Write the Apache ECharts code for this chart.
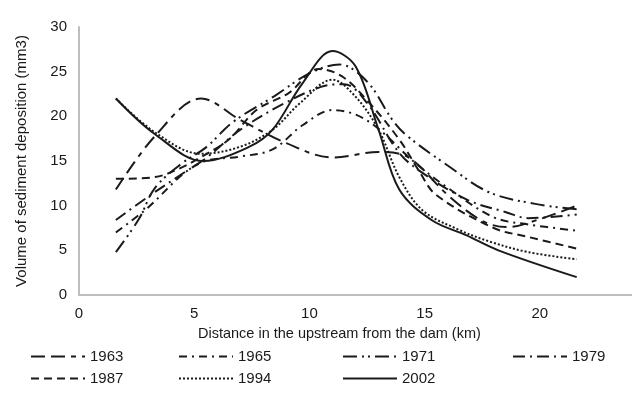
<!DOCTYPE html>
<html>
<head>
<meta charset="utf-8">
<script src="https://cdn.jsdelivr.net/npm/echarts@6/dist/echarts.min.js"></script>
<style>
  html, body { margin: 0; padding: 0; background: #fff; }
  #chart { width: 632px; height: 399px; }
</style>
</head>
<body>
<div id="chart"></div>
<script>
// volume of sediment deposition (mm3) against distance upstream from the dam (km)
var years = ['1963', '1965', '1971', '1979', '1987', '1994', '2002'];
var xTicks = [0, 5, 10, 15, 20];
var yTicks = [0, 5, 10, 15, 20, 25, 30];

var s1963 = [[1.6, 11.8], [3.3, 17.8], [5.3, 22], [7, 19.6], [9, 17], [11, 15.4], [13, 16], [14.3, 15.4], [16, 11.2], [17.5, 8.3], [18.6, 7.6], [20, 8.5], [21.6, 10]];
var s1965 = [[1.6, 7], [3, 9.8], [4.5, 13.5], [5.5, 15], [7, 15.5], [8.4, 16.3], [9.7, 19], [11, 20.7], [12, 20.2], [13, 18.6], [14.5, 15], [16, 12], [18, 8.7], [19.5, 7.9], [21.6, 7.2]];
var s1971 = [[1.6, 4.8], [2.6, 8.5], [3.3, 12], [4.5, 14.8], [5.5, 16.5], [6.7, 19.4], [8.5, 22.3], [10, 24.8], [11.3, 25.8], [12.5, 23.9], [13.6, 19.6], [14.2, 17.9], [16, 14.5], [17.8, 11.5], [19.8, 10.2], [21.6, 9.6]];
var s1979 = [[1.6, 8.4], [3, 11], [4.5, 13.6], [5.5, 15.3], [7, 18.5], [8.8, 21.3], [10.5, 23.3], [11.5, 23.6], [12.5, 21.5], [13.9, 15.9], [15, 13.5], [16.9, 10.6], [18.5, 9.3], [19.5, 8.6], [21.6, 9]];
var s1987 = [[1.6, 13], [3.3, 13.2], [4.4, 14.2], [5.2, 15.3], [6.5, 17.4], [7.7, 20.7], [9.1, 22.6], [10.4, 25.3], [11.4, 24.5], [12.5, 21.8], [13.9, 17.4], [14.8, 13.7], [15.5, 11.2], [18, 7.5], [19.5, 6.5], [21.6, 5.2]];
var s1994 = [[1.6, 22], [3.3, 18.2], [5.3, 15.8], [7, 16.6], [8.4, 18.5], [9.6, 21.5], [11, 24.1], [12, 22.2], [13, 18.5], [13.9, 13.2], [14.9, 9.5], [16.4, 7.4], [17.8, 6], [19.5, 4.8], [21.6, 4]];
var s2002 = [[1.6, 22], [3.3, 18], [5.4, 15], [7.4, 16.6], [8.4, 18.5], [9.7, 23.7], [11, 27.3], [12, 25.6], [13, 18.5], [13.9, 11.8], [15.3, 8.4], [16.8, 6.7], [18.2, 5], [21.6, 2]];

var seriesData = [s1963, s1965, s1971, s1979, s1987, s1994, s2002];

// line dash patterns, as in the legend
var dashes = [
  [14, 6, 14, 6, 5, 6],
  [8, 5, 2, 5],
  [14, 5, 2, 4, 2, 5],
  [12, 5, 2, 5],
  [8, 5],
  [2, 2],
  'solid'
];

var font = "'Liberation Sans', Arial, sans-serif";
var ink = '#1a1a1a';

var legendLeft = [30, 178, 342, 512];
var legendTop = [349, 371];

var chart = echarts.init(document.getElementById('chart'));

var series = years.map(function (y, i) {
  return {
    name: y,
    type: 'line',
    data: seriesData[i],
    smooth: 0.35,
    symbol: 'none',
    lineStyle: { color: ink, width: 2, type: dashes[i] },
    itemStyle: { color: ink },
    z: 10 - i
  };
});

var legends = years.map(function (y, i) {
  return {
    data: [y],
    left: legendLeft[i % 4],
    top: legendTop[Math.floor(i / 4)],
    itemWidth: 54,
    itemHeight: 14,
    itemGap: 0,
    padding: 0,
    itemStyle: { opacity: 0 },
    lineStyle: { width: 2 },
    textStyle: { color: ink, fontSize: 15, fontFamily: font },
    selectedMode: false
  };
});

chart.setOption({
  animation: false,
  backgroundColor: '#fff',
  grid: { left: 79, right: 0, top: 27, bottom: 104 },
  legend: legends,
  xAxis: {
    type: 'value',
    min: 0,
    max: 24,
    interval: 5,
    axisLine: { lineStyle: { color: '#bdbdbd', width: 2 } },
    axisTick: { show: false },
    splitLine: { show: false },
    axisLabel: {
      color: ink, fontSize: 15, fontFamily: font, margin: 11,
      showMaxLabel: false,
      formatter: function (v) { return xTicks.indexOf(v) >= 0 ? v : ''; }
    }
  },
  yAxis: {
    type: 'value',
    min: 0,
    max: 30,
    interval: 5,
    name: 'Volume of sediment deposition (mm3)',
    nameLocation: 'middle',
    nameGap: 50,
    nameTextStyle: { color: ink, fontSize: 15, fontFamily: font },
    axisLine: { show: true, lineStyle: { color: '#bdbdbd', width: 2 } },
    axisTick: { show: false },
    splitLine: { show: false },
    axisLabel: {
      color: ink, fontSize: 15, fontFamily: font, margin: 12,
      formatter: function (v) { return yTicks.indexOf(v) >= 0 ? v : ''; }
    }
  },
  graphic: [{
    type: 'text',
    left: 198,
    top: 326,
    style: {
      text: 'Distance in the upstream from the dam (km)',
      fill: ink,
      font: '14.5px ' + font
    }
  }],
  series: series
});
</script>
</body>
</html>
